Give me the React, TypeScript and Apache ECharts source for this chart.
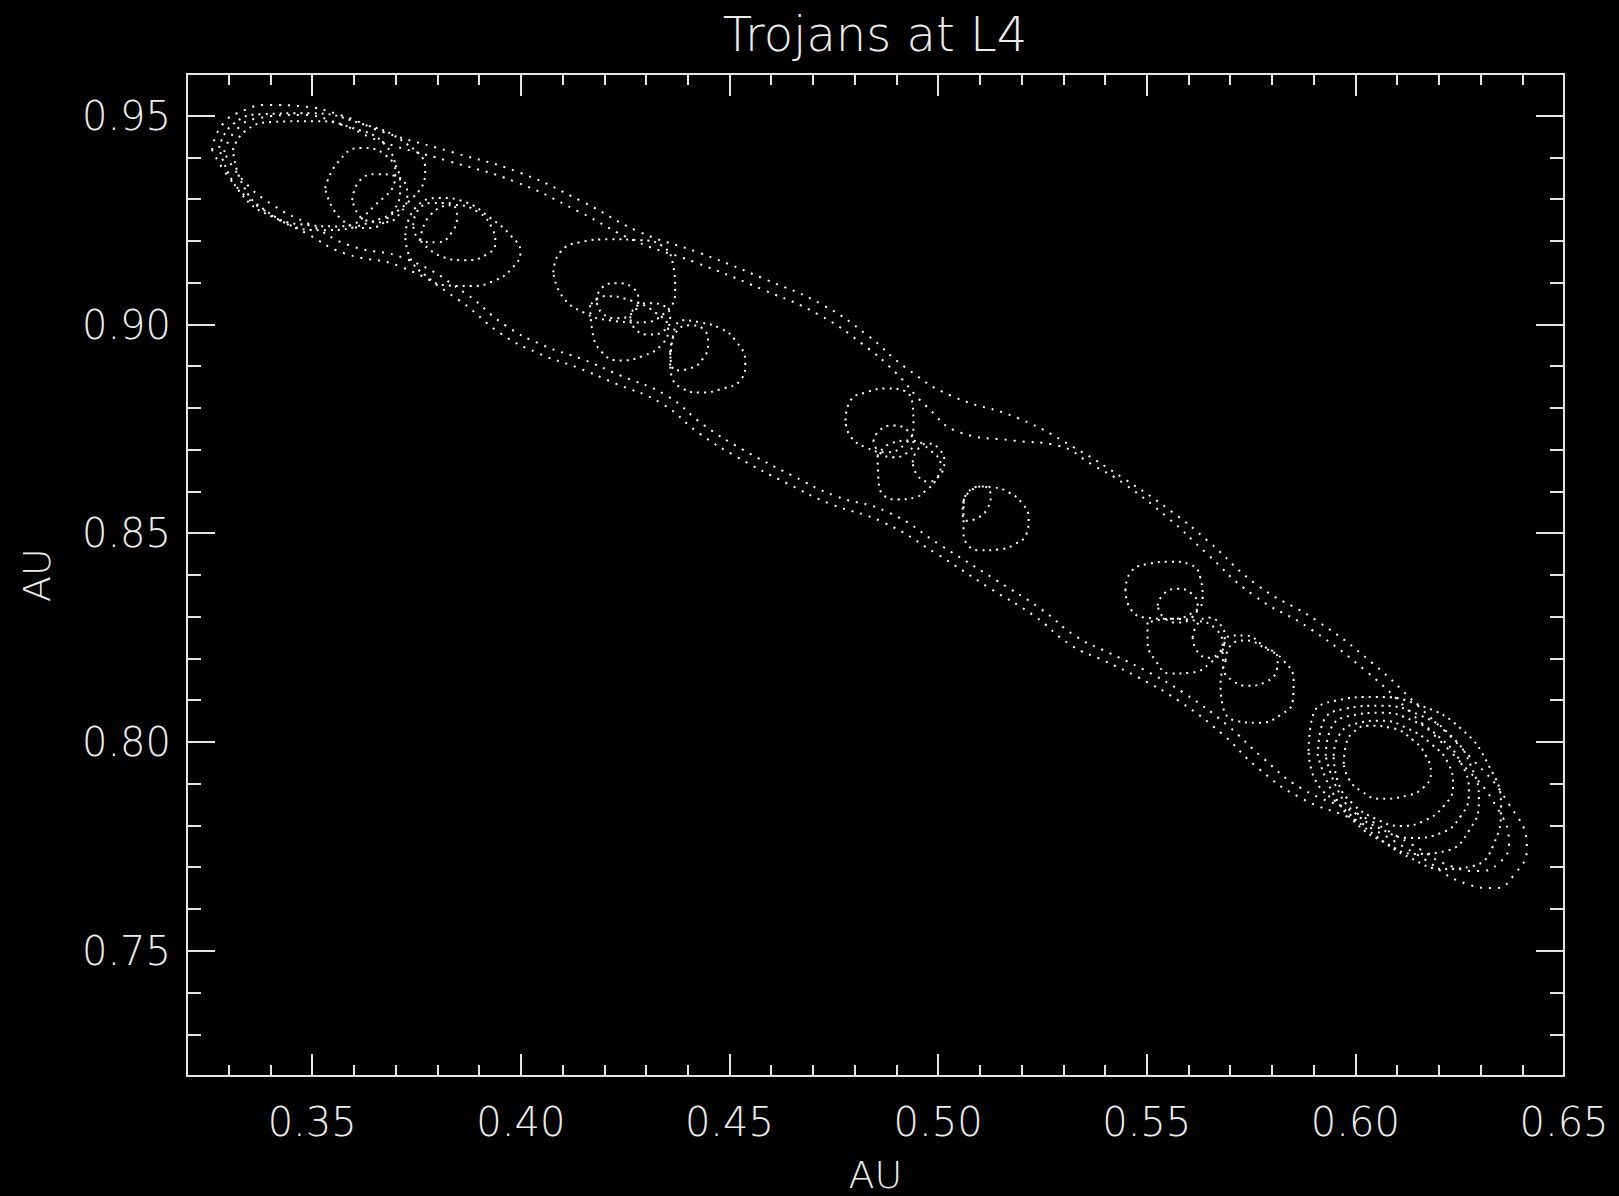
import React, { useEffect, useRef } from 'react';
import * as echarts from 'echarts';

// ---- axis ticks ----
const xMajorTicks = [0.35, 0.4, 0.45, 0.5, 0.55, 0.6, 0.65];
const xMinorTicks = [0.33, 0.34, 0.36, 0.37, 0.38, 0.39, 0.41, 0.42, 0.43, 0.44, 0.46, 0.47, 0.48, 0.49, 0.51, 0.52, 0.53, 0.54, 0.56, 0.57, 0.58, 0.59, 0.61, 0.62, 0.63, 0.64];
const yMajorTicks = [0.75, 0.8, 0.85, 0.9, 0.95];
const yMinorTicks = [0.73, 0.74, 0.76, 0.77, 0.78, 0.79, 0.81, 0.82, 0.83, 0.84, 0.86, 0.87, 0.88, 0.89, 0.91, 0.92, 0.93, 0.94];

// ---- trajectory curves (AU) ----
const bandOuter = [[0.3260,0.9418],[0.3284,0.9478],[0.3339,0.9514],[0.3399,0.9526],[0.3471,0.9523],[0.3576,0.9499],[0.3670,0.9461],[0.3835,0.9413],[0.3999,0.9363],[0.4150,0.9293],[0.4286,0.9221],[0.4430,0.9171],[0.4591,0.9106],[0.4725,0.9046],[0.4831,0.8974],[0.4922,0.8897],[0.5030,0.8830],[0.5193,0.8775],[0.5325,0.8706],[0.5445,0.8631],[0.5557,0.8554],[0.5646,0.8482],[0.5766,0.8375],[0.5907,0.8291],[0.6042,0.8188],[0.6145,0.8092],[0.6277,0.7962],[0.6363,0.7859],[0.6411,0.7746],[0.6382,0.7684],[0.6334,0.7650],[0.6267,0.7660],[0.6145,0.7732],[0.6003,0.7811],[0.5869,0.7866],[0.5766,0.7938],[0.5680,0.8020],[0.5576,0.8099],[0.5481,0.8154],[0.5397,0.8195],[0.5320,0.8231],[0.5229,0.8303],[0.5126,0.8367],[0.4996,0.8451],[0.4869,0.8526],[0.4740,0.8571],[0.4639,0.8619],[0.4519,0.8682],[0.4428,0.8739],[0.4337,0.8811],[0.4226,0.8859],[0.4135,0.8897],[0.4042,0.8931],[0.3951,0.8979],[0.3852,0.9058],[0.3716,0.9137],[0.3576,0.9171],[0.3485,0.9219],[0.3394,0.9267],[0.3315,0.9334],[0.3260,0.9418]];
const bandInner = [[0.3289,0.9413],[0.3318,0.9466],[0.3370,0.9494],[0.3471,0.9502],[0.3572,0.9478],[0.3663,0.9439],[0.3828,0.9391],[0.3989,0.9341],[0.4138,0.9271],[0.4274,0.9200],[0.4418,0.9149],[0.4579,0.9084],[0.4713,0.9024],[0.4819,0.8953],[0.4898,0.8885],[0.4970,0.8806],[0.5054,0.8741],[0.5181,0.8722],[0.5286,0.8710],[0.5373,0.8662],[0.5445,0.8619],[0.5553,0.8535],[0.5641,0.8454],[0.5754,0.8353],[0.5895,0.8269],[0.6030,0.8166],[0.6133,0.8070],[0.6258,0.7945],[0.6337,0.7847],[0.6368,0.7756],[0.6344,0.7710],[0.6296,0.7691],[0.6234,0.7701],[0.6133,0.7756],[0.6001,0.7830],[0.5869,0.7890],[0.5778,0.7962],[0.5692,0.8041],[0.5588,0.8118],[0.5493,0.8173],[0.5409,0.8214],[0.5332,0.8252],[0.5246,0.8319],[0.5140,0.8387],[0.5008,0.8470],[0.4881,0.8550],[0.4752,0.8590],[0.4651,0.8638],[0.4531,0.8701],[0.4440,0.8758],[0.4349,0.8830],[0.4238,0.8878],[0.4147,0.8917],[0.4054,0.8950],[0.3963,0.8998],[0.3864,0.9077],[0.3728,0.9156],[0.3588,0.9190],[0.3497,0.9238],[0.3406,0.9286],[0.3334,0.9346],[0.3289,0.9413]];

const nest1a = [[0.3277,0.9423],[0.3308,0.9478],[0.3380,0.9504],[0.3495,0.9506],[0.3615,0.9482],[0.3723,0.9435],[0.3771,0.9370],[0.3735,0.9298],[0.3639,0.9245],[0.3519,0.9226],[0.3411,0.9255],[0.3327,0.9317],[0.3277,0.9423]];
const nest1b = [[0.3310,0.9418],[0.3339,0.9463],[0.3404,0.9485],[0.3507,0.9487],[0.3596,0.9471],[0.3675,0.9430],[0.3699,0.9358],[0.3651,0.9286],[0.3567,0.9235],[0.3471,0.9240],[0.3387,0.9274],[0.3334,0.9334],[0.3310,0.9418]];
const loop1a = [[0.3531,0.9327],[0.3562,0.9389],[0.3615,0.9423],[0.3675,0.9406],[0.3711,0.9334],[0.3692,0.9269],[0.3632,0.9231],[0.3567,0.9255],[0.3531,0.9327]];
const loop1b = [[0.3596,0.9298],[0.3615,0.9346],[0.3658,0.9360],[0.3706,0.9353],[0.3728,0.9310],[0.3711,0.9267],[0.3675,0.9245],[0.3627,0.9250],[0.3596,0.9298]];
const loop1c = [[0.3742,0.9238],[0.3754,0.9274],[0.3788,0.9291],[0.3826,0.9291],[0.3847,0.9262],[0.3835,0.9221],[0.3800,0.9197],[0.3759,0.9202],[0.3742,0.9238]];
const loop1d = [[0.3723,0.9214],[0.3747,0.9279],[0.3807,0.9303],[0.3867,0.9293],[0.3927,0.9255],[0.3975,0.9214],[0.3999,0.9173],[0.3979,0.9135],[0.3939,0.9106],[0.3879,0.9092],[0.3819,0.9094],[0.3771,0.9118],[0.3735,0.9159],[0.3723,0.9214]];
const loop1e = [[0.3759,0.9202],[0.3783,0.9262],[0.3843,0.9286],[0.3898,0.9269],[0.3931,0.9231],[0.3939,0.9195],[0.3915,0.9166],[0.3867,0.9154],[0.3807,0.9164],[0.3759,0.9202]];

const loop2a = [[0.4078,0.9125],[0.4094,0.9173],[0.4142,0.9197],[0.4214,0.9204],[0.4286,0.9202],[0.4339,0.9188],[0.4365,0.9142],[0.4370,0.9082],[0.4346,0.9029],[0.4286,0.9005],[0.4214,0.9010],[0.4150,0.9029],[0.4099,0.9068],[0.4078,0.9125]];
const loop2b = [[0.4181,0.9058],[0.4195,0.9089],[0.4231,0.9099],[0.4267,0.9089],[0.4282,0.9058],[0.4267,0.9027],[0.4231,0.9015],[0.4195,0.9027],[0.4181,0.9058]];
const loop2c = [[0.4262,0.9015],[0.4277,0.9044],[0.4310,0.9051],[0.4344,0.9044],[0.4358,0.9015],[0.4344,0.8986],[0.4310,0.8976],[0.4277,0.8986],[0.4262,0.9015]];
const loop2d = [[0.4358,0.8933],[0.4370,0.8979],[0.4406,0.8998],[0.4435,0.8991],[0.4449,0.8955],[0.4437,0.8919],[0.4406,0.8895],[0.4370,0.8890],[0.4358,0.8933]];
const loop2e = [[0.4358,0.8902],[0.4363,0.8962],[0.4389,0.9010],[0.4430,0.9005],[0.4478,0.8991],[0.4514,0.8962],[0.4538,0.8909],[0.4526,0.8866],[0.4485,0.8847],[0.4430,0.8837],[0.4387,0.8847],[0.4363,0.8871],[0.4358,0.8902]];
const loop2f = [[0.4166,0.9046],[0.4171,0.8986],[0.4195,0.8933],[0.4238,0.8914],[0.4291,0.8924],[0.4339,0.8953],[0.4353,0.8991],[0.4322,0.9029],[0.4262,0.9058],[0.4202,0.9068],[0.4166,0.9046]];

const loop3a = [[0.4778,0.8770],[0.4790,0.8818],[0.4826,0.8837],[0.4879,0.8847],[0.4917,0.8842],[0.4939,0.8806],[0.4941,0.8758],[0.4922,0.8715],[0.4874,0.8694],[0.4826,0.8706],[0.4790,0.8732],[0.4778,0.8770]];
const loop3b = [[0.4845,0.8720],[0.4859,0.8746],[0.4893,0.8758],[0.4927,0.8746],[0.4941,0.8720],[0.4927,0.8694],[0.4893,0.8682],[0.4859,0.8694],[0.4845,0.8720]];
const loop3c = [[0.4939,0.8670],[0.4951,0.8701],[0.4977,0.8715],[0.5003,0.8701],[0.5015,0.8670],[0.5003,0.8638],[0.4977,0.8624],[0.4951,0.8638],[0.4939,0.8670]];
const loop3d = [[0.4855,0.8686],[0.4857,0.8631],[0.4871,0.8590],[0.4905,0.8581],[0.4946,0.8586],[0.4970,0.8602],[0.4994,0.8626],[0.5006,0.8662],[0.4982,0.8698],[0.4934,0.8722],[0.4886,0.8715],[0.4855,0.8686]];
const loop3e = [[0.5061,0.8571],[0.5071,0.8598],[0.5102,0.8612],[0.5133,0.8610],[0.5169,0.8598],[0.5202,0.8571],[0.5217,0.8535],[0.5212,0.8499],[0.5186,0.8475],[0.5145,0.8461],[0.5102,0.8459],[0.5073,0.8470],[0.5061,0.8506],[0.5061,0.8571]];
const loop3f = [[0.5061,0.8578],[0.5078,0.8602],[0.5109,0.8612],[0.5126,0.8590],[0.5118,0.8559],[0.5097,0.8538],[0.5068,0.8530],[0.5059,0.8554],[0.5061,0.8578]];

const loop4a = [[0.5449,0.8363],[0.5461,0.8406],[0.5505,0.8427],[0.5557,0.8432],[0.5605,0.8425],[0.5629,0.8391],[0.5634,0.8343],[0.5610,0.8310],[0.5557,0.8295],[0.5497,0.8298],[0.5461,0.8319],[0.5449,0.8363]];
const loop4b = [[0.5526,0.8327],[0.5541,0.8355],[0.5574,0.8367],[0.5608,0.8355],[0.5622,0.8327],[0.5608,0.8298],[0.5574,0.8286],[0.5541,0.8298],[0.5526,0.8327]];
const loop4c = [[0.5610,0.8250],[0.5622,0.8283],[0.5648,0.8298],[0.5675,0.8283],[0.5687,0.8250],[0.5675,0.8216],[0.5648,0.8202],[0.5622,0.8216],[0.5610,0.8250]];
const loop4d = [[0.5689,0.8195],[0.5701,0.8231],[0.5737,0.8243],[0.5785,0.8224],[0.5828,0.8195],[0.5852,0.8147],[0.5850,0.8099],[0.5821,0.8065],[0.5768,0.8046],[0.5713,0.8051],[0.5682,0.8087],[0.5677,0.8142],[0.5689,0.8195]];
const loop4e = [[0.5682,0.8219],[0.5701,0.8255],[0.5737,0.8255],[0.5778,0.8231],[0.5814,0.8200],[0.5811,0.8171],[0.5785,0.8144],[0.5742,0.8135],[0.5706,0.8147],[0.5684,0.8176],[0.5682,0.8219]];
const loop4f = [[0.5502,0.8286],[0.5502,0.8243],[0.5521,0.8195],[0.5557,0.8164],[0.5605,0.8166],[0.5653,0.8190],[0.5682,0.8231],[0.5665,0.8271],[0.5617,0.8291],[0.5557,0.8295],[0.5502,0.8286]];

const ring5a = [[0.5888,0.7979],[0.5898,0.8063],[0.5953,0.8099],[0.6049,0.8108],[0.6157,0.8087],[0.6253,0.8032],[0.6320,0.7943],[0.6349,0.7847],[0.6332,0.7756],[0.6282,0.7703],[0.6212,0.7696],[0.6133,0.7722],[0.6049,0.7775],[0.5965,0.7847],[0.5905,0.7907],[0.5888,0.7979]];
const ring5b = [[0.5910,0.7967],[0.5922,0.8046],[0.5977,0.8080],[0.6061,0.8087],[0.6157,0.8063],[0.6229,0.8015],[0.6277,0.7943],[0.6296,0.7859],[0.6272,0.7787],[0.6217,0.7739],[0.6145,0.7732],[0.6073,0.7758],[0.6001,0.7806],[0.5946,0.7878],[0.5910,0.7967]];
const ring5c = [[0.5929,0.7967],[0.5941,0.8032],[0.5989,0.8063],[0.6061,0.8070],[0.6138,0.8051],[0.6205,0.8008],[0.6253,0.7950],[0.6272,0.7878],[0.6253,0.7823],[0.6205,0.7782],[0.6133,0.7770],[0.6061,0.7792],[0.5994,0.7835],[0.5953,0.7895],[0.5929,0.7967]];
const ring5d = [[0.5948,0.7967],[0.5960,0.8015],[0.6001,0.8044],[0.6061,0.8051],[0.6126,0.8032],[0.6181,0.7996],[0.6222,0.7950],[0.6234,0.7895],[0.6212,0.7847],[0.6164,0.7811],[0.6109,0.7799],[0.6049,0.7816],[0.5994,0.7852],[0.5960,0.7900],[0.5948,0.7967]];
const ring5e = [[0.5972,0.7948],[0.5977,0.7991],[0.5994,0.8022],[0.6030,0.8039],[0.6085,0.8034],[0.6140,0.8003],[0.6169,0.7967],[0.6181,0.7926],[0.6162,0.7890],[0.6121,0.7871],[0.6061,0.7864],[0.6013,0.7883],[0.5984,0.7912],[0.5972,0.7948]];

const bandCurves = [bandOuter, bandInner];
const loopCurves = [
  nest1a, nest1b,
  loop1a, loop1b, loop1c, loop1d, loop1e,
  loop2a, loop2b, loop2c, loop2d, loop2e, loop2f,
  loop3a, loop3b, loop3c, loop3d, loop3e, loop3f,
  loop4a, loop4b, loop4c, loop4d, loop4e, loop4f,
  ring5a, ring5b, ring5c, ring5d, ring5e,
];

const AXIS_COLOR = '#e4e4e4';
const TEXT_COLOR = '#ececec';
const FONT = '"DejaVu Sans", "Liberation Sans", sans-serif';

function xAxisCfg(position: string, ticks: number[], len: number, withLabels: boolean, name?: string) {
  return {
    type: 'value',
    position,
    min: 0.32,
    max: 0.65,
    name: name || '',
    nameLocation: 'middle',
    nameGap: 80,
    nameTextStyle: { color: TEXT_COLOR, fontSize: 38, fontFamily: FONT, fontWeight: 'lighter' },
    axisLine: { show: true, onZero: false, lineStyle: { color: AXIS_COLOR, width: 2 } },
    axisTick: { show: true, inside: true, length: len, customValues: ticks, lineStyle: { color: AXIS_COLOR, width: 2 } },
    axisLabel: withLabels
      ? { show: true, customValues: ticks, margin: 26, color: TEXT_COLOR, fontSize: 40, fontFamily: FONT, fontWeight: 'lighter', formatter: (v: number) => v.toFixed(2) }
      : { show: false },
    splitLine: { show: false },
    minorTick: { show: false },
  };
}

function yAxisCfg(position: string, ticks: number[], len: number, withLabels: boolean, name?: string) {
  return {
    type: 'value',
    position,
    min: 0.72,
    max: 0.96,
    name: name || '',
    nameLocation: 'middle',
    nameGap: 131,
    nameTextStyle: { color: TEXT_COLOR, fontSize: 38, fontFamily: FONT, fontWeight: 'lighter' },
    axisLine: { show: true, onZero: false, lineStyle: { color: AXIS_COLOR, width: 2 } },
    axisTick: { show: true, inside: true, length: len, customValues: ticks, lineStyle: { color: AXIS_COLOR, width: 2 } },
    axisLabel: withLabels
      ? { show: true, customValues: ticks, margin: 16, color: TEXT_COLOR, fontSize: 40, fontFamily: FONT, fontWeight: 'lighter', formatter: (v: number) => v.toFixed(2) }
      : { show: false },
    splitLine: { show: false },
    minorTick: { show: false },
  };
}

function curveSeries(d: number[][], name: string, dash: number[]) {
  return {
    type: 'line',
    name,
    data: d,
    xAxisIndex: 0,
    yAxisIndex: 0,
    symbol: 'none',
    smooth: 0.5,
    silent: true,
    lineStyle: { color: '#ffffff', width: 2, type: dash, cap: 'butt' },
  };
}

export default function App() {
  const ref = useRef<HTMLDivElement>(null);
  useEffect(() => {
    if (!ref.current) return;
    const chart = echarts.init(ref.current, null, { renderer: 'svg' });
    const option: any = {
      animation: false,
      backgroundColor: '#000000',
      grid: { left: 187, right: 55, top: 74, bottom: 120, containLabel: false, outerBoundsMode: 'none' },
      graphic: [
        {
          type: 'text',
          x: 875,
          y: 34,
          style: {
            text: 'Trojans at L4',
            fill: TEXT_COLOR,
            fontSize: 48,
            fontFamily: FONT,
            fontWeight: 'lighter',
            align: 'center',
            verticalAlign: 'middle',
          },
        },
      ],
      xAxis: [
        xAxisCfg('bottom', xMajorTicks, 22, true, 'AU'),
        xAxisCfg('bottom', xMinorTicks, 11, false),
        xAxisCfg('top', xMajorTicks, 22, false),
        xAxisCfg('top', xMinorTicks, 11, false),
      ],
      yAxis: [
        yAxisCfg('left', yMajorTicks, 28, true, 'AU'),
        yAxisCfg('left', yMinorTicks, 14, false),
        yAxisCfg('right', yMajorTicks, 28, false),
        yAxisCfg('right', yMinorTicks, 14, false),
      ],
      series: [
        ...bandCurves.map((d, i) => curveSeries(d, 'band' + i, [2, 7])),
        ...loopCurves.map((d, i) => curveSeries(d, 'loop' + i, [2, 5])),
      ],
    };
    chart.setOption(option);
    return () => chart.dispose();
  }, []);
  return (
    <div
      ref={ref}
      style={{ position: 'absolute', left: 0, top: 0, width: 1619, height: 1196, background: '#000' }}
    />
  );
}
